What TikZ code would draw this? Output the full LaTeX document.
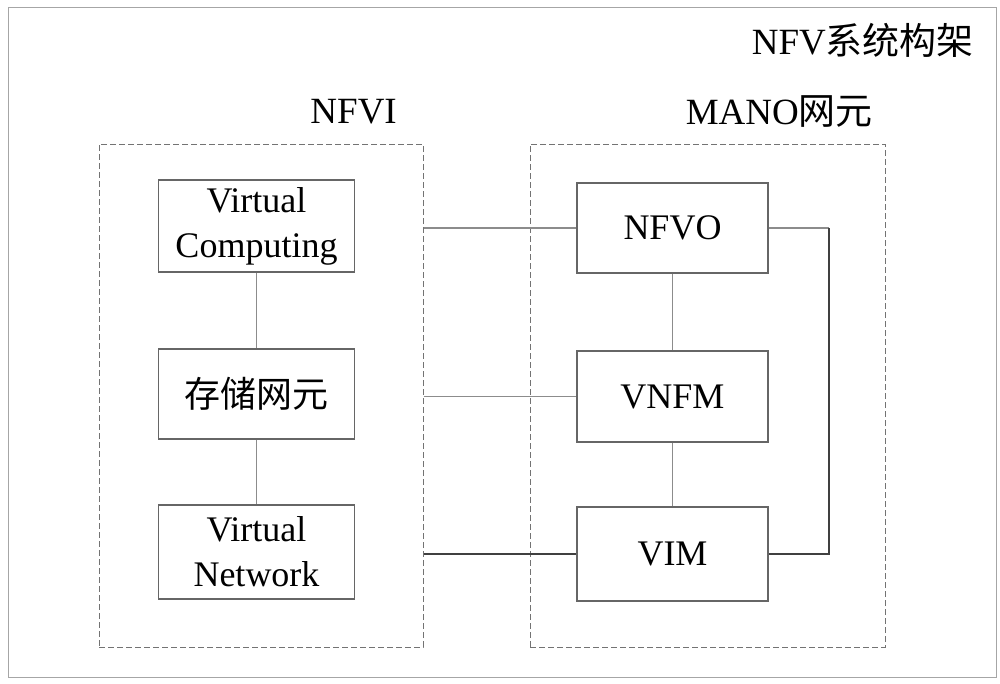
\documentclass[tikz,border=0pt]{standalone}
\usepackage{fontspec}
\setmainfont{Liberation Serif}
\newfontfamily\cjk{Noto Sans CJK SC}
\usetikzlibrary{positioning}
\tikzset{
  box/.style={draw=black!60, line width=1.1pt, rectangle, minimum width=196pt, align=center, font=\fontsize{36}{45}\selectfont, inner sep=0pt},
  rbox/.style={box, minimum width=191pt},
  group/.style={draw=black!55, dashed, dash pattern=on 6pt off 3pt, line width=1pt, rectangle, inner sep=0pt},
  conn/.style={draw=black!45, line width=1.1pt},
  dconn/.style={draw=black!75, line width=1.4pt},
  lbl/.style={font=\fontsize{37}{44}\selectfont, inner sep=0pt}
}
\begin{document}
\begin{tikzpicture}[x=1pt,y=-1pt]
\useasboundingbox (0,0) rectangle (1000,683);
\node[draw=black!35, line width=1pt, minimum width=988pt, minimum height=670pt, inner sep=0pt] (outer) at (502,342) {};
\node[lbl, anchor=east] (title) at (974,40) {NFV{\cjk 系统构架}};
% groups
\node[group, minimum width=324pt, minimum height=503pt] (nfvi) at (261,395.5) {};
\node[group, minimum width=355pt, minimum height=503pt] (mano) at (707.5,395.5) {};
\node[lbl, anchor=east] (nfvilbl) at (397,112) {NFVI};
\node[lbl, anchor=east] (manolbl) at (873,112) {MANO{\cjk 网元}};
% left boxes
\node[box, minimum height=92pt] (vc) at (256.5,226) {Virtual\\Computing};
\node[box, minimum height=90pt] (st) at (256.5,394) {{\cjk 存储网元}};
\node[box, minimum height=94pt] (vn) at (256.5,552) {Virtual\\Network};
% right boxes
\node[rbox, minimum height=90pt] (nfvo) at (672.5,228) {NFVO};
\node[rbox, minimum height=91pt] (vnfm) at (672.5,396.5) {VNFM};
\node[rbox, minimum height=94pt] (vim) at (672.5,554) {VIM};
% connectors
\draw[conn] (vc) -- (st);
\draw[conn] (st) -- (vn);
\draw[conn] (nfvo) -- (vnfm);
\draw[conn] (vnfm) -- (vim);
\draw[conn] (nfvi.east |- nfvo.west) -- (nfvo.west);
\draw[conn] (nfvi.east |- vnfm.west) -- (vnfm.west);
\draw[dconn] (nfvi.east |- vim.west) -- (vim.west);
\coordinate (loopt) at (829,228);
\coordinate (loopb) at (829,554);
\draw[conn] (nfvo.east) -- (loopt);
\draw[dconn] (loopt) -- (loopb) -- (vim.east);
\end{tikzpicture}
\end{document}
